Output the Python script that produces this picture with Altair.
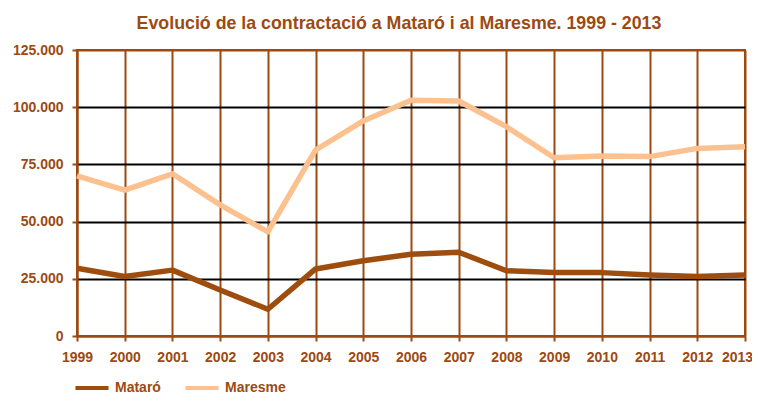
import altair as alt
import pandas as pd

years = [str(y) for y in range(1999, 2014)]
mataro = [29600, 26000, 28800, 20100, 11700, 29300, 32900, 35700, 36600, 28500, 27800, 27700, 26700, 26000, 26700]
maresme = [70000, 63800, 70900, 57300, 45500, 81300, 94000, 103000, 102700, 91500, 77900, 78700, 78400, 82000, 82700]
series = ["Mataró", "Maresme"]
colors = ["#9E4D0E", "#FDC18F"]

rows = []
for i, y in enumerate(years):
    rows.append({"any": y, "serie": "Mataró", "valor": mataro[i]})
    rows.append({"any": y, "serie": "Maresme", "valor": maresme[i]})
df = pd.DataFrame(rows)

brown = "#9C4A12"
FONT = "Liberation Sans"

chart = alt.Chart(df).mark_line(strokeWidth=5.5, strokeJoin="round").encode(
    x=alt.X("any:O", sort=years, scale=alt.Scale(type="point", padding=0),
            axis=alt.Axis(title=None, labelAngle=0, labelFont=FONT, labelFontSize=14,
                          labelFontWeight="bold", labelColor=brown, grid=True,
                          labelOffset=alt.condition("datum.value == '2013'", alt.value(-8), alt.value(0)),
                          gridColor=brown, gridWidth=2, domainColor=brown, domainWidth=2,
                          tickColor=brown, tickSize=5, tickWidth=2, labelPadding=9)),
    y=alt.Y("valor:Q", scale=alt.Scale(domain=[0, 125000], nice=False),
            axis=alt.Axis(title=None, values=[0, 25000, 50000, 75000, 100000, 125000],
                          labelExpr="datum.value == 0 ? '0' : replace(format(datum.value, ',.0f'), ',', '.')",
                          labelFont=FONT, labelFontSize=14, labelFontWeight="bold",
                          labelColor=brown, grid=True,
                          gridColor=alt.condition("datum.value >= 125000 || datum.value == 0", alt.value(brown), alt.value("#000000")),
                          gridWidth=2, domainColor=brown, domainWidth=2, tickColor=brown,
                          tickSize=5, tickWidth=2, labelPadding=9)),
    color=alt.Color("serie:N", sort=series, scale=alt.Scale(domain=series, range=colors),
                    legend=alt.Legend(title=None, orient="none", legendX=-4, legendY=319,
                                      direction="horizontal", symbolType="stroke",
                                      symbolSize=1100, symbolStrokeWidth=4,
                                      labelFont=FONT, labelFontSize=14, labelFontWeight="bold",
                                      labelColor=brown, columnPadding=16, labelOffset=4,
                                      padding=0)),
).properties(
    width=668, height=286,
    title=alt.Title("Evolució de la contractació a Mataró i al Maresme. 1999 - 2013",
                    font=FONT, fontSize=17.8, fontWeight="bold", color=brown,
                    anchor="middle", dx=-12, offset=10),
    autosize=alt.AutoSizeParams(type="none"),
    padding={"left": 69, "top": 42, "right": 7, "bottom": 59},
).configure_view(stroke=brown, strokeWidth=2)

chart.save("out.html", embed_options={"renderer": "svg", "actions": False})
